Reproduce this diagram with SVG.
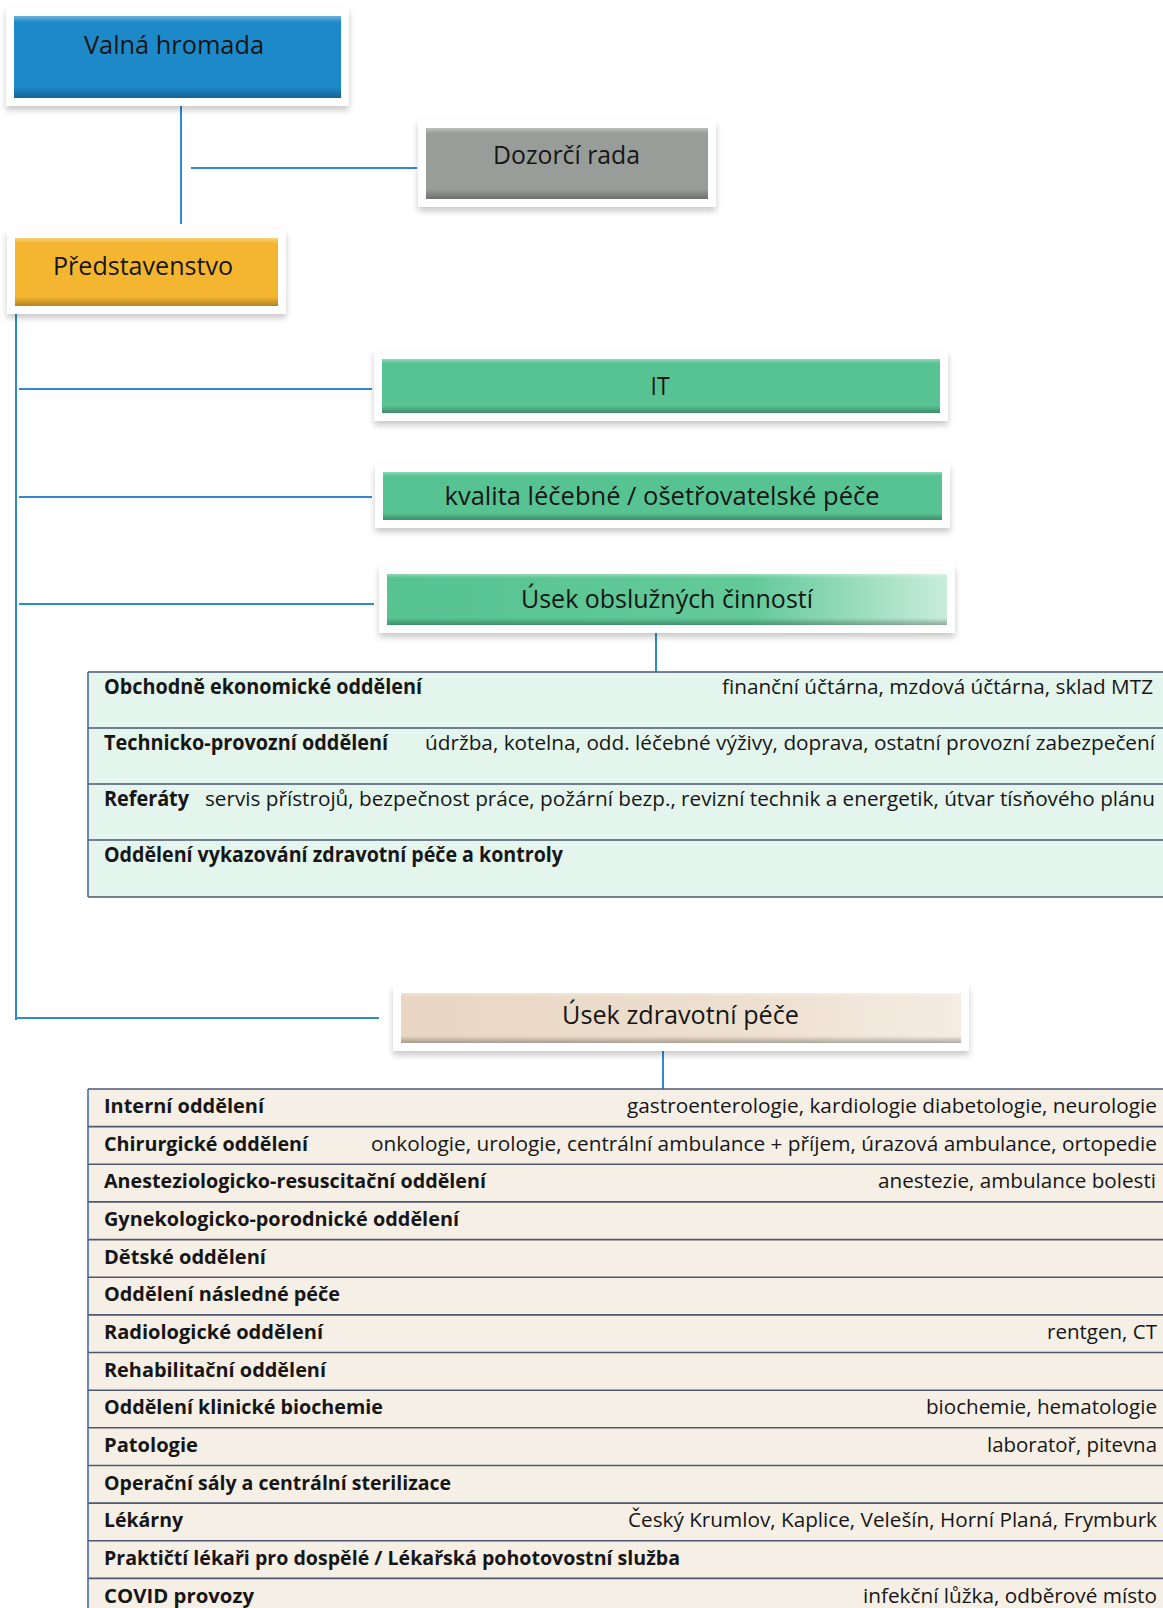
<svg xmlns="http://www.w3.org/2000/svg" width="1163" height="1608" viewBox="0 0 1163 1608">
<defs>
<filter id="sh" x="-10%" y="-30%" width="120%" height="170%">
<feDropShadow dx="0" dy="4" stdDeviation="3" flood-color="#000" flood-opacity="0.22"/>
</filter>
<linearGradient id="bevel" x1="0" y1="0" x2="0" y2="1">
<stop offset="0" stop-color="#fff" stop-opacity="0.35"/>
<stop offset="0.08" stop-color="#fff" stop-opacity="0"/>
<stop offset="0.86" stop-color="#000" stop-opacity="0"/>
<stop offset="1" stop-color="#000" stop-opacity="0.28"/>
</linearGradient>
<linearGradient id="gObs" x1="0" y1="0" x2="1" y2="0">
<stop offset="0" stop-color="#56C391"/>
<stop offset="0.65" stop-color="#63C999"/>
<stop offset="1" stop-color="#C8EDD8"/>
</linearGradient>
<linearGradient id="gZdr" x1="0" y1="0" x2="1" y2="0">
<stop offset="0" stop-color="#E8D6C2"/>
<stop offset="0.6" stop-color="#EDDFCF"/>
<stop offset="1" stop-color="#F5ECE2"/>
</linearGradient>
</defs>
<style>
.t{font-family:"Open Sans","Noto Sans","Liberation Sans",sans-serif;fill:#161616}
.bt{font-size:25px}
.b1{font-size:20.5px;font-weight:700}
.r1{font-size:20.5px}
.b2{font-size:19.5px;font-weight:700}
.r2{font-size:19.5px}
.frame{fill:#fff;filter:url(#sh)}
.bev{fill:url(#bevel)}
.conn{stroke:#2C8AD0;stroke-width:2;fill:none}
.row{stroke:#4E5870;stroke-width:1.6}
.lb{stroke:#4A6D9C;stroke-width:1.6}
</style>
<rect width="1163" height="1608" fill="#fff"/>

<g id="connectors">
<path class="conn" d="M181 98V224"/>
<path class="conn" d="M191 168H417"/>
<path class="conn" d="M16 312V1020"/>
<path class="conn" d="M19 389H372"/>
<path class="conn" d="M19 497H372"/>
<path class="conn" d="M19 604H374"/>
<path class="conn" d="M16 1018H379"/>
<path class="conn" d="M656 626V672"/>
<path class="conn" d="M663 1049V1089"/>
</g>

<g id="valna-hromada">
<rect class="frame" x="6" y="8" width="343" height="98"/>
<rect x="14" y="16" width="327" height="82" fill="#1D89C9"/>
<rect class="bev" x="14" y="16" width="327" height="82"/>
<text class="t bt" x="174" y="54" text-anchor="middle" textLength="180" lengthAdjust="spacingAndGlyphs">Valná hromada</text>
</g>

<g id="dozorci-rada">
<rect class="frame" x="418" y="120" width="298" height="87"/>
<rect x="426" y="128" width="282" height="71" fill="#989D99"/>
<rect class="bev" x="426" y="128" width="282" height="71"/>
<text class="t bt" x="566.5" y="164" text-anchor="middle" textLength="147" lengthAdjust="spacingAndGlyphs">Dozorčí rada</text>
</g>

<g id="predstavenstvo">
<rect class="frame" x="7" y="230" width="279" height="84"/>
<rect x="15" y="238" width="263" height="68" fill="#F4B631"/>
<rect class="bev" x="15" y="238" width="263" height="68"/>
<text class="t bt" x="53" y="275" textLength="180" lengthAdjust="spacingAndGlyphs">Představenstvo</text>
</g>

<g id="it">
<rect class="frame" x="374" y="351" width="574" height="70"/>
<rect x="382" y="359" width="558" height="54" fill="#57C392"/>
<rect class="bev" x="382" y="359" width="558" height="54"/>
<text class="t bt" x="660" y="395" text-anchor="middle" textLength="19" lengthAdjust="spacingAndGlyphs">IT</text>
</g>

<g id="kvalita">
<rect class="frame" x="375" y="464" width="575" height="64"/>
<rect x="383" y="472" width="559" height="48" fill="#57C392"/>
<rect class="bev" x="383" y="472" width="559" height="48"/>
<text class="t bt" x="662" y="505" text-anchor="middle" textLength="435" lengthAdjust="spacingAndGlyphs">kvalita léčebné / ošetřovatelské péče</text>
</g>

<g id="usek-obsluznych">
<rect class="frame" x="379" y="566" width="576" height="67"/>
<rect x="387" y="574" width="560" height="51" fill="url(#gObs)"/>
<rect class="bev" x="387" y="574" width="560" height="51"/>
<text class="t bt" x="667" y="608" text-anchor="middle" textLength="292" lengthAdjust="spacingAndGlyphs">Úsek obslužných činností</text>
</g>

<g id="tabulka-obsluzne">
<rect x="88" y="672" width="1075" height="225" fill="#E3F5EC"/>
<path class="row" d="M88 672H1163M88 728H1163M88 784H1163M88 840H1163M88 897H1163"/>
<path class="lb" d="M88 672V897"/>
<text class="t b1" x="104" y="694" textLength="318" lengthAdjust="spacingAndGlyphs">Obchodně ekonomické oddělení</text>
<text class="t r1" x="722" y="694" textLength="431" lengthAdjust="spacingAndGlyphs">finanční účtárna, mzdová účtárna, sklad MTZ</text>
<text class="t b1" x="104" y="750" textLength="284" lengthAdjust="spacingAndGlyphs">Technicko-provozní oddělení</text>
<text class="t r1" x="425" y="750" textLength="730" lengthAdjust="spacingAndGlyphs">údržba, kotelna, odd. léčebné výživy, doprava, ostatní provozní zabezpečení</text>
<text class="t b1" x="104" y="806" textLength="85" lengthAdjust="spacingAndGlyphs">Referáty</text>
<text class="t r1" x="205" y="806" textLength="950" lengthAdjust="spacingAndGlyphs">servis přístrojů, bezpečnost práce, požární bezp., revizní technik a energetik, útvar tísňového plánu</text>
<text class="t b1" x="104" y="862" textLength="459" lengthAdjust="spacingAndGlyphs">Oddělení vykazování zdravotní péče a kontroly</text>
</g>

<g id="usek-zdravotni">
<rect class="frame" x="393" y="985" width="576" height="66"/>
<rect x="401" y="993" width="560" height="50" fill="url(#gZdr)"/>
<rect class="bev" x="401" y="993" width="560" height="50"/>
<text class="t bt" x="680.5" y="1024" text-anchor="middle" textLength="237" lengthAdjust="spacingAndGlyphs">Úsek zdravotní péče</text>
</g>

<g id="tabulka-zdravotni">
<rect x="88" y="1089" width="1075" height="519" fill="#F6EFE6"/>
<path class="row" d="M88 1089H1163M88 1126.6H1163M88 1164.3H1163M88 1201.9H1163M88 1239.6H1163M88 1277.2H1163M88 1314.9H1163M88 1352.5H1163M88 1390.2H1163M88 1427.8H1163M88 1465.5H1163M88 1503.1H1163M88 1540.8H1163M88 1578.4H1163"/>
<path class="lb" d="M88 1089V1608"/>
<text class="t b2" x="104" y="1113" textLength="160" lengthAdjust="spacingAndGlyphs">Interní oddělení</text>
<text class="t r2" x="627" y="1113" textLength="530" lengthAdjust="spacingAndGlyphs">gastroenterologie, kardiologie diabetologie, neurologie</text>
<text class="t b2" x="104" y="1150.7" textLength="204" lengthAdjust="spacingAndGlyphs">Chirurgické oddělení</text>
<text class="t r2" x="371" y="1150.7" textLength="786" lengthAdjust="spacingAndGlyphs">onkologie, urologie, centrální ambulance + příjem, úrazová ambulance, ortopedie</text>
<text class="t b2" x="104" y="1188.3" textLength="382" lengthAdjust="spacingAndGlyphs">Anesteziologicko-resuscitační oddělení</text>
<text class="t r2" x="878" y="1188.3" textLength="278" lengthAdjust="spacingAndGlyphs">anestezie, ambulance bolesti</text>
<text class="t b2" x="104" y="1226" textLength="355" lengthAdjust="spacingAndGlyphs">Gynekologicko-porodnické oddělení</text>
<text class="t b2" x="104" y="1263.6" textLength="162" lengthAdjust="spacingAndGlyphs">Dětské oddělení</text>
<text class="t b2" x="104" y="1301.3" textLength="236" lengthAdjust="spacingAndGlyphs">Oddělení následné péče</text>
<text class="t b2" x="104" y="1338.9" textLength="219" lengthAdjust="spacingAndGlyphs">Radiologické oddělení</text>
<text class="t r2" x="1047" y="1338.9" textLength="110" lengthAdjust="spacingAndGlyphs">rentgen, CT</text>
<text class="t b2" x="104" y="1376.6" textLength="222" lengthAdjust="spacingAndGlyphs">Rehabilitační oddělení</text>
<text class="t b2" x="104" y="1414.2" textLength="279" lengthAdjust="spacingAndGlyphs">Oddělení klinické biochemie</text>
<text class="t r2" x="926" y="1414.2" textLength="231" lengthAdjust="spacingAndGlyphs">biochemie, hematologie</text>
<text class="t b2" x="104" y="1451.9" textLength="94" lengthAdjust="spacingAndGlyphs">Patologie</text>
<text class="t r2" x="987" y="1451.9" textLength="170" lengthAdjust="spacingAndGlyphs">laboratoř, pitevna</text>
<text class="t b2" x="104" y="1489.5" textLength="347" lengthAdjust="spacingAndGlyphs">Operační sály a centrální sterilizace</text>
<text class="t b2" x="104" y="1527.2" textLength="79" lengthAdjust="spacingAndGlyphs">Lékárny</text>
<text class="t r2" x="628" y="1527.2" textLength="529" lengthAdjust="spacingAndGlyphs">Český Krumlov, Kaplice, Velešín, Horní Planá, Frymburk</text>
<text class="t b2" x="104" y="1564.8" textLength="576" lengthAdjust="spacingAndGlyphs">Praktičtí lékaři pro dospělé / Lékařská pohotovostní služba</text>
<text class="t b2" x="104" y="1602.5" textLength="150" lengthAdjust="spacingAndGlyphs">COVID provozy</text>
<text class="t r2" x="863" y="1602.5" textLength="294" lengthAdjust="spacingAndGlyphs">infekční lůžka, odběrové místo</text>
</g>
</svg>
